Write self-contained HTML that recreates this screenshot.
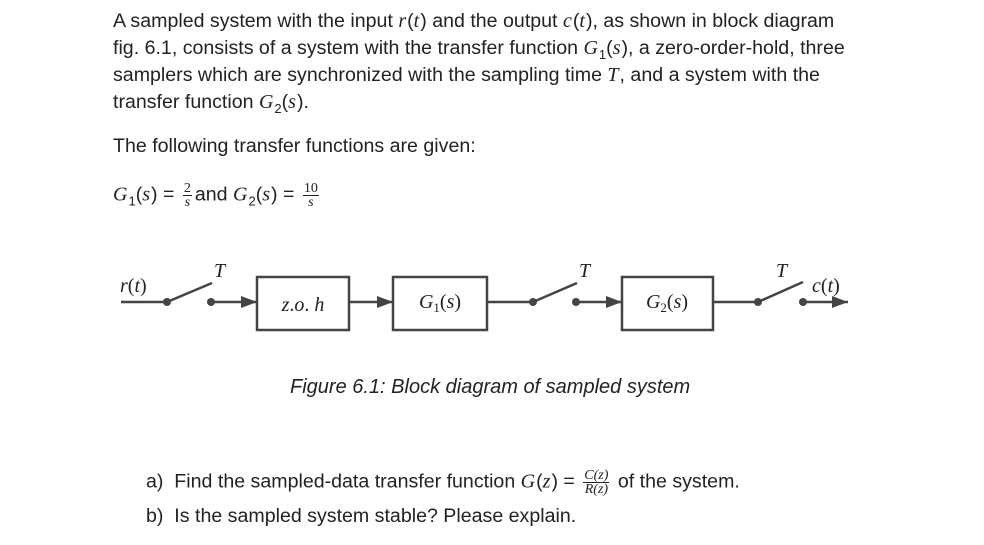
<!DOCTYPE html>
<html><head><meta charset="utf-8"><style>
body{margin:0;width:984px;height:545px;background:#fff;position:relative;overflow:hidden;font-family:"Liberation Sans",Arial,sans-serif;color:#222;}
.t{position:absolute;left:113px;font-size:19.6px;white-space:nowrap;line-height:22px;}
.m{font-family:"Liberation Serif",serif;font-style:italic;font-size:20px;letter-spacing:1px;}
.f{display:inline-block;vertical-align:middle;text-align:center;font-family:"Liberation Serif",serif;font-style:italic;font-size:14px;line-height:13px;margin:0 3px;}
.f span{display:block;}
.f .n{border-bottom:1px solid #222;padding:0 1px;}
sub{font-size:13px;}
</style></head><body>
<div class="t" style="top:10px">A sampled system with the input <span class="m">r</span>(<span class="m">t</span>) and the output <span class="m">c</span>(<span class="m">t</span>), as shown in block diagram</div>
<div class="t" style="top:37px">fig. 6.1, consists of a system with the transfer function <span class="m">G</span><sub>1</sub>(<span class="m">s</span>), a zero-order-hold, three</div>
<div class="t" style="top:64px">samplers which are synchronized with the sampling time <span class="m">T</span>, and a system with the</div>
<div class="t" style="top:91px">transfer function <span class="m">G</span><sub>2</sub>(<span class="m">s</span>).</div>
<div class="t" style="top:135px">The following transfer functions are given:</div>
<div class="t" style="top:182px"><span class="m">G</span><sub>1</sub>(<span class="m">s</span>) = <span class="f"><span class="n" style="font-style:normal">2</span><span>s</span></span>and <span class="m">G</span><sub>2</sub>(<span class="m">s</span>) = <span class="f"><span class="n" style="font-style:normal">10</span><span>s</span></span></div>

<svg style="position:absolute;left:0;top:0" width="984" height="545">
<defs><marker id="a" markerWidth="16" markerHeight="12" refX="16" refY="6" orient="auto" markerUnits="userSpaceOnUse"><path d="M0,0L16,6L0,12z" fill="#444"/></marker></defs>
<g stroke="#444" stroke-width="2.5" fill="none">
<line x1="121" y1="302" x2="167" y2="302"/><line x1="167" y1="302" x2="212" y2="283"/>
<line x1="211" y1="302" x2="257" y2="302" marker-end="url(#a)"/>
<rect x="257" y="277" width="92" height="53"/>
<line x1="349" y1="302" x2="393" y2="302" marker-end="url(#a)"/>
<rect x="393" y="277" width="94" height="53"/>
<line x1="487" y1="302" x2="533" y2="302"/><line x1="533" y1="302" x2="577" y2="283"/>
<line x1="576" y1="302" x2="622" y2="302" marker-end="url(#a)"/>
<rect x="622" y="277" width="91" height="53"/>
<line x1="713" y1="302" x2="758" y2="302"/><line x1="758" y1="302" x2="803" y2="282"/>
<line x1="803" y1="302" x2="848" y2="302" marker-end="url(#a)"/>
</g>
<g fill="#444"><circle cx="167" cy="302" r="4"/><circle cx="211" cy="302" r="4"/><circle cx="533" cy="302" r="4"/><circle cx="576" cy="302" r="4"/><circle cx="758" cy="302" r="4"/><circle cx="803" cy="302" r="4"/></g>
<g font-family="Liberation Serif,serif" font-size="20" fill="#222">
<text x="120" y="292" font-style="italic">r<tspan font-style="normal">(</tspan>t<tspan font-style="normal">)</tspan></text>
<text x="214" y="277" font-style="italic">T</text>
<text x="579" y="277" font-style="italic">T</text>
<text x="776" y="277" font-style="italic">T</text>
<text x="812" y="292" font-style="italic">c<tspan font-style="normal">(</tspan>t<tspan font-style="normal">)</tspan></text>
<text x="303" y="311" text-anchor="middle" font-style="italic">z<tspan font-style="normal">.</tspan>o<tspan font-style="normal">.</tspan> h</text>
<text x="440" y="308" text-anchor="middle" font-style="italic">G<tspan font-size="13" font-style="normal" dy="4">1</tspan><tspan font-style="normal" dy="-4">(</tspan>s<tspan font-style="normal">)</tspan></text>
<text x="667" y="308" text-anchor="middle" font-style="italic">G<tspan font-size="13" font-style="normal" dy="4">2</tspan><tspan font-style="normal" dy="-4">(</tspan>s<tspan font-style="normal">)</tspan></text>
</g>
</svg>
<div class="t" style="top:376px;left:290px;font-style:italic;font-size:20px">Figure 6.1: Block diagram of sampled system</div>
<div class="t" style="top:469px;left:146px">a)&nbsp;&nbsp;Find the sampled-data transfer function <span class="m">G</span>(<span class="m">z</span>) = <span class="f"><span class="n">C(z)</span><span>R(z)</span></span> of the system.</div>
<div class="t" style="top:505px;left:146px">b)&nbsp;&nbsp;Is the sampled system stable? Please explain.</div>
</body></html>
